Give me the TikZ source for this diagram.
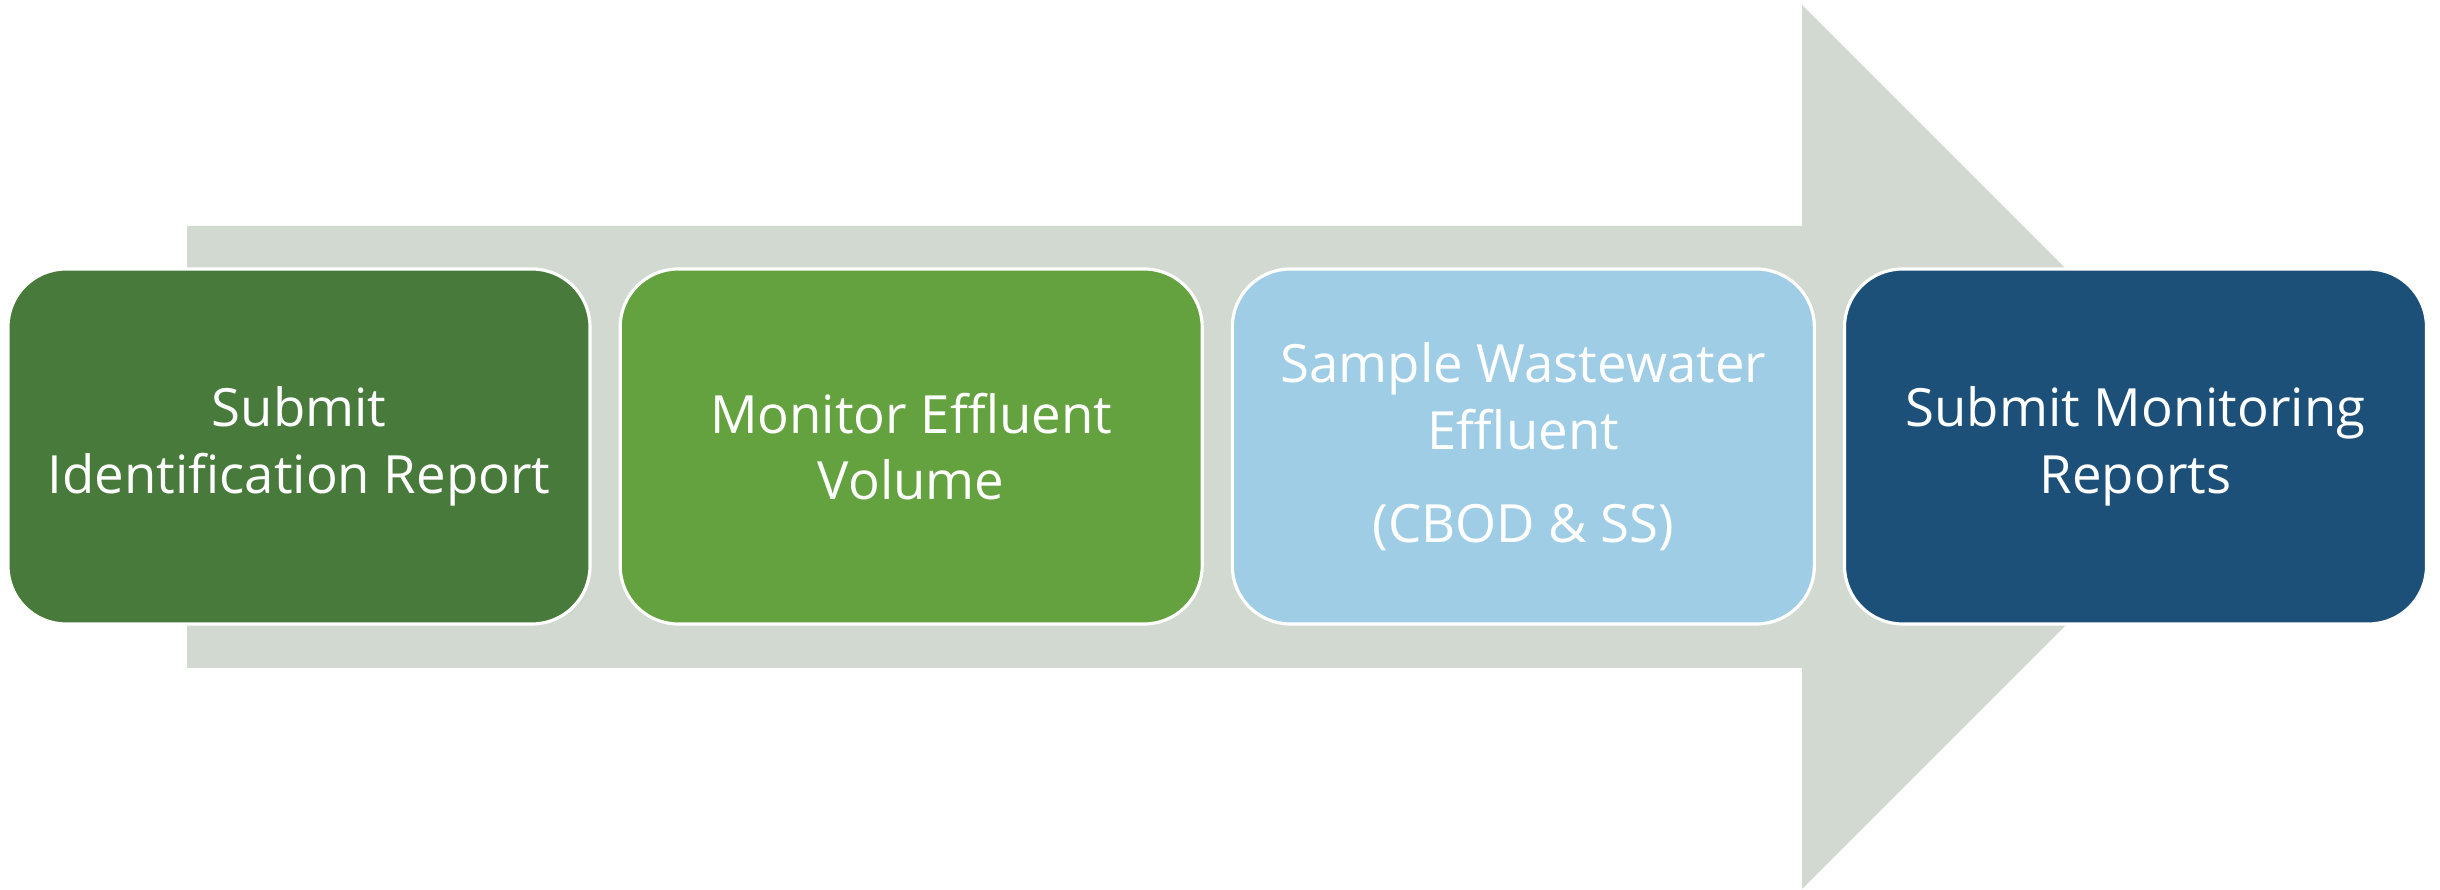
\documentclass[tikz,border=0pt]{standalone}
\usepackage{fontspec}
\setmainfont{Open Sans}
\usepackage{xcolor}
\usetikzlibrary{positioning,calc}
\definecolor{arrowgray}{RGB}{209,217,208}
\definecolor{stepdarkgreen}{RGB}{72,122,59}
\definecolor{stepgreen}{RGB}{100,161,63}
\definecolor{steplightblue}{RGB}{159,205,230}
\definecolor{stepblue}{RGB}{28,80,121}

\begin{document}
\begin{tikzpicture}[
		stage/.style={draw=white, line width=0.9pt, rounded corners=0.58cm,
			minimum width=5.82cm, minimum height=3.55cm, align=center,
			text=white, font=\fontsize{15pt}{19pt}\selectfont}
	]
				\useasboundingbox (0,0) rectangle (24.4,8.9);
				
				% Draw big background arrow
				\fill[arrowgray] (1.87,2.22) -- (1.87,6.64) -- (18.02,6.64) -- (18.02,8.85)
					-- (22.44,4.43) -- (18.02,0.01) -- (18.02,2.22) -- cycle;
				
				% Draw the four steps
				\node[stage, fill=stepdarkgreen] (identify) at (2.99,4.435) {Submit\\Identification Report};
				\node[stage, fill=stepgreen, right=0.27cm of identify] (volume) {Monitor Effluent\\Volume};
				\node[stage, fill=steplightblue, right=0.27cm of volume] (sample) {Sample Wastewater\\Effluent\\[7.5pt](CBOD \& SS)};
				\node[stage, fill=stepblue, right=0.27cm of sample] (reports) {Submit Monitoring\\Reports};
			\end{tikzpicture}
\end{document}
